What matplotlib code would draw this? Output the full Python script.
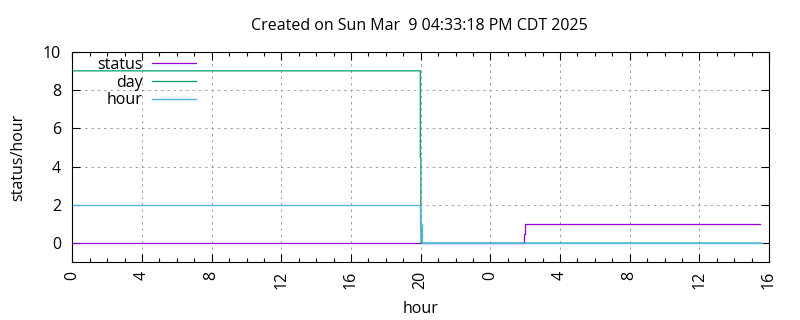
import numpy as np
import matplotlib
matplotlib.use("Agg")
from matplotlib import pyplot as plt
from matplotlib.ticker import MultipleLocator, FuncFormatter

# hours since start of the log
status_t = [0, 25.93, 25.93, 26.0, 26.0, 39.5]
status_v = [0, 0, 0.5, 0.5, 1, 1]

day_t = [0, 19.98, 19.98, 20.01, 20.01, 20.03, 39.55]
day_v = [9, 9, 4.5, 4.5, 1.0, 0, 0]

hour_t = [0, 19.97, 19.97, 20.05, 20.05, 39.57]
hour_v = [2, 2, 1, 1, 0, 0]

title = "Created on Sun Mar  9 04:33:18 PM CDT 2025"

plt.rcParams['font.family'] = ['Open Sans', 'DejaVu Sans']
plt.rcParams['font.size'] = 11.5

fig = plt.figure(figsize=(8, 3.2), dpi=100)
ax = fig.add_axes([0.0904, 0.1803, 0.8709, 0.6581])

ax.plot(status_t, status_v, color="#9400d3", lw=0.9, label="status")
ax.plot(day_t, day_v, color="#009e73", lw=0.9, label="day")
ax.plot(hour_t, hour_v, color="#56b4e9", lw=1.0, label="hour")

ax.set_xlim(0, 40)
ax.set_ylim(-1, 10)
ax.xaxis.set_major_locator(MultipleLocator(4))
ax.xaxis.set_minor_locator(MultipleLocator(1))
ax.xaxis.set_major_formatter(FuncFormatter(lambda v, p: "%d" % (int(round(v)) % 24)))
ax.set_yticks([0, 2, 4, 6, 8, 10])

ax.tick_params(axis="both", which="both", direction="in", top=True, right=True,
               width=0.8, colors="black")
ax.tick_params(which="major", length=6)
ax.tick_params(which="minor", length=3)
ax.tick_params(axis="x", which="major", labelrotation=90, pad=6)
ax.tick_params(axis="y", which="major", pad=8)

ax.grid(True, which="major", color="#a0a0a0", lw=0.7, linestyle=(0, (2.5, 4)))
for s in ax.spines.values():
    s.set_linewidth(0.8)

ax.set_xlabel("hour", labelpad=9)
ax.set_ylabel("status/hour", labelpad=12)
fig.text(0.524, 0.92, title, ha="center", va="center", fontsize=11.5)

ax.legend(loc="upper right", bbox_to_anchor=(0.178, 0.975), frameon=False,
          markerfirst=False, handlelength=2.75, handletextpad=0.62,
          labelspacing=0.1, borderpad=0, borderaxespad=0)

fig.savefig("out.png", dpi=100)
